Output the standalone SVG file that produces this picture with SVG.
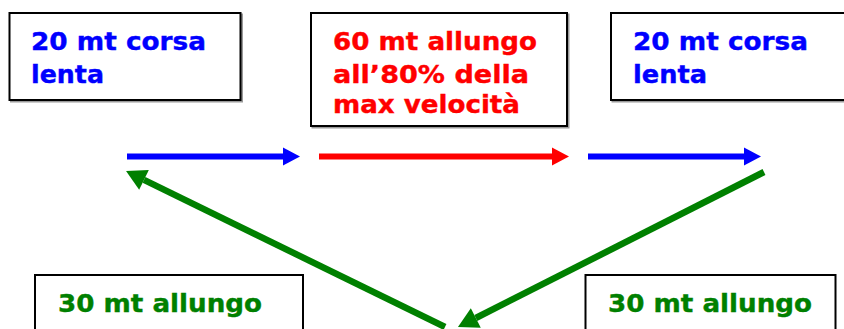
<svg xmlns="http://www.w3.org/2000/svg" width="844" height="329" viewBox="0 0 844 329">
  <style>
    .box { fill: #ffffff; stroke: #000000; stroke-width: 2; }
    .shadow { fill: none; stroke: #9a9a9a; stroke-width: 2; }
    .t { font-family: "DejaVu Sans", Verdana, sans-serif; font-weight: bold; font-size: 25.5px; stroke-width: 0.4px; }
    .blue { fill: #0000ff; stroke: #0000ff; }
    .red { fill: #ff0000; stroke: #ff0000; }
    .green { fill: #008000; stroke: #008000; }
    .lb { stroke: #0000ff; stroke-width: 6; fill: none; }
    .lr { stroke: #ff0000; stroke-width: 6; fill: none; }
    .lg { stroke: #008000; stroke-width: 6.5; fill: none; }
  </style>
  <defs>
    <marker id="hb" markerUnits="userSpaceOnUse" markerWidth="17" markerHeight="18" refX="0" refY="9" orient="auto" overflow="visible">
      <path d="M0,0 L17,9 L0,18 Z" fill="#0000ff"/>
    </marker>
    <marker id="hr" markerUnits="userSpaceOnUse" markerWidth="17" markerHeight="18" refX="0" refY="9" orient="auto" overflow="visible">
      <path d="M0,0 L17,9 L0,18 Z" fill="#ff0000"/>
    </marker>
    <marker id="hg" markerUnits="userSpaceOnUse" markerWidth="20" markerHeight="22" refX="0" refY="11" orient="auto" overflow="visible">
      <path d="M0,0 L20,11 L0,22 Z" fill="#008000"/>
    </marker>
  </defs>
  <rect width="844" height="329" fill="#ffffff"/>

  <g id="box-corsa-1">
    <rect class="shadow" x="11" y="14.5" width="231" height="87"/>
    <rect class="box" x="9.5" y="13" width="231" height="87"/>
    <text class="t blue" x="31" y="50" textLength="175" lengthAdjust="spacingAndGlyphs">20 mt corsa</text>
    <text class="t blue" x="31" y="82.5" textLength="73" lengthAdjust="spacingAndGlyphs">lenta</text>
  </g>

  <g id="box-allungo-60">
    <rect class="shadow" x="312.5" y="14.5" width="256" height="113"/>
    <rect class="box" x="311" y="13" width="256" height="113"/>
    <text class="t red" x="333" y="49.5" textLength="204" lengthAdjust="spacingAndGlyphs">60 mt allungo</text>
    <text class="t red" x="333" y="82.5" textLength="196" lengthAdjust="spacingAndGlyphs">all’80% della</text>
    <text class="t red" x="333" y="113" textLength="187" lengthAdjust="spacingAndGlyphs">max velocità</text>
  </g>

  <g id="box-corsa-2">
    <rect class="shadow" x="612.5" y="14.5" width="240" height="87"/>
    <rect class="box" x="611" y="13" width="240" height="87"/>
    <text class="t blue" x="633" y="50" textLength="175" lengthAdjust="spacingAndGlyphs">20 mt corsa</text>
    <text class="t blue" x="633" y="82.5" textLength="74" lengthAdjust="spacingAndGlyphs">lenta</text>
  </g>

  <g id="box-allungo-30-left">
    <rect class="box" x="35" y="275" width="268" height="70"/>
    <text class="t green" x="58" y="311.5" textLength="204" lengthAdjust="spacingAndGlyphs">30 mt allungo</text>
  </g>

  <g id="box-allungo-30-right">
    <rect class="box" x="585.5" y="275" width="250" height="70"/>
    <text class="t green" x="608" y="311.5" textLength="204" lengthAdjust="spacingAndGlyphs">30 mt allungo</text>
  </g>

  <g id="connectors">
    <line class="lb" x1="127" y1="156.5" x2="283" y2="156.5" marker-end="url(#hb)"/>
    <line class="lr" x1="319" y1="156.5" x2="552" y2="156.5" marker-end="url(#hr)"/>
    <line class="lb" x1="588" y1="156.5" x2="744" y2="156.5" marker-end="url(#hb)"/>
    <line class="lg" x1="445" y1="327" x2="144" y2="179.8" marker-end="url(#hg)"/>
    <line class="lg" x1="764" y1="172" x2="475.8" y2="318" marker-end="url(#hg)"/>
  </g>
</svg>
